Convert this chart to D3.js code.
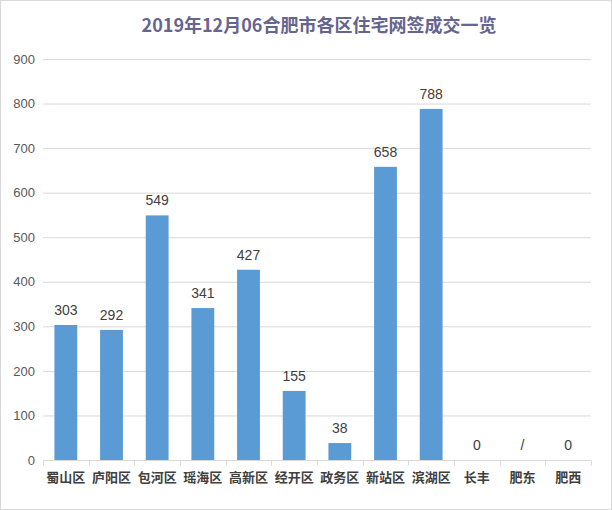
<!DOCTYPE html>
<html><head><meta charset="utf-8">
<script src="https://cdn.jsdelivr.net/npm/d3@7"></script>
<style>body{margin:0;background:#fff;}svg{display:block;}</style>
</head><body>
<script>
const categories = ["蜀山区","庐阳区","包河区","瑶海区","高新区","经开区","政务区","新站区","滨湖区","长丰","肥东","肥西"];
const values = [303, 292, 549, 341, 427, 155, 38, 658, 788, 0, null, 0];
const valueLabels = ["303","292","549","341","427","155","38","658","788","0","/","0"];
const yTicks = [0,100,200,300,400,500,600,700,800,900];
const title = "2019年12月06合肥市各区住宅网签成交一览";

const W = 612, H = 510;
const m = {left: 43, right: 21, top: 59, bottom: 50};
const svg = d3.select("body").append("svg").attr("width", W).attr("height", H);
svg.append("rect").attr("x",0.5).attr("y",0.5).attr("width",W-1).attr("height",H-1).attr("fill","#fff").attr("stroke","#d9d9d9");

const x = d3.scaleBand().domain(categories).range([m.left, W - m.right]).paddingInner(0.5).paddingOuter(0.25);
const y = d3.scaleLinear().domain([0, 900]).range([H - m.bottom, m.top]);

svg.append("text").attr("x", 319).attr("y", 32).attr("text-anchor","middle")
  .attr("font-family","Noto Sans CJK SC, sans-serif").attr("font-weight","bold").attr("font-size",18)
  .attr("fill","#65658f").text(title);

// gridlines
svg.append("g").selectAll("line").data(yTicks.filter(d=>d>0)).join("line")
  .attr("x1", m.left).attr("x2", W - m.right)
  .attr("y1", d=>y(d)+0.5).attr("y2", d=>y(d)+0.5)
  .attr("stroke","#d9d9d9").attr("stroke-width",1);

// y axis labels
const ya = svg.append("g").attr("transform",`translate(${m.left},0)`)
  .call(d3.axisLeft(y).tickValues(yTicks).tickSize(0).tickPadding(8));
ya.select(".domain").remove();
ya.selectAll("text").attr("font-family","Liberation Sans, Arial, sans-serif").attr("font-size",13).attr("fill","#595959");

// bars
svg.append("g").selectAll("rect").data(categories).join("rect")
  .attr("x", d=>x(d)).attr("width", x.bandwidth())
  .attr("y", (d,i)=>y(values[i]||0)).attr("height", (d,i)=>y(0)-y(values[i]||0))
  .attr("fill","#5b9bd5");

// value labels
svg.append("g").selectAll("text").data(categories).join("text")
  .attr("x", d=>x(d)+x.bandwidth()/2).attr("y",(d,i)=>y(values[i]||0)-10)
  .attr("text-anchor","middle").attr("font-family","Liberation Sans, Arial, sans-serif").attr("font-size",14)
  .attr("fill","#404040").text((d,i)=>valueLabels[i]);

// x axis
const xa = svg.append("g").attr("transform",`translate(0,${y(0)+0.5})`);
xa.append("line").attr("x1",m.left).attr("x2",W-m.right).attr("stroke","#d9d9d9");
const bounds = d3.range(categories.length+1).map(i=>m.left + i*(W-m.left-m.right)/categories.length);
xa.selectAll("line.tk").data(bounds).join("line").attr("class","tk")
  .attr("x1",d=>Math.round(d)+0.5).attr("x2",d=>Math.round(d)+0.5).attr("y1",0).attr("y2",5).attr("stroke","#d9d9d9");
xa.selectAll("text").data(categories).join("text")
  .attr("x", d=>x(d)+x.bandwidth()/2).attr("y", 21)
  .attr("text-anchor","middle").attr("font-family","Noto Sans CJK SC, sans-serif").attr("font-weight","bold").attr("font-size",13)
  .attr("fill","#404040").text(d=>d);
</script>
</body></html>
